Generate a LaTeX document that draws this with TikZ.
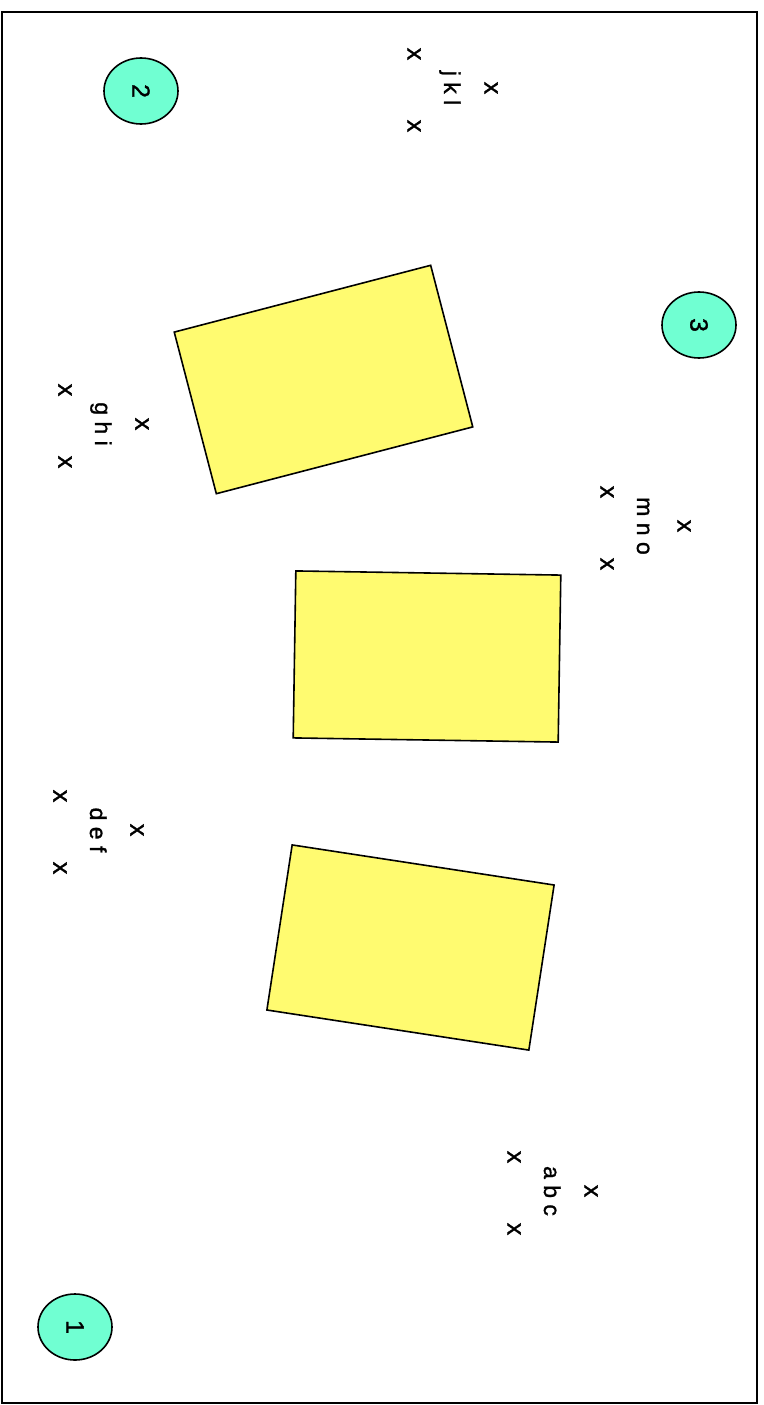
\documentclass[tikz,border=0pt]{standalone}
\usepackage{fontspec}
\setmainfont{Liberation Sans}
\newfontface\inkfont{Liberation Sans}[FakeBold=1.2]
\usetikzlibrary{shapes.geometric,positioning}
\definecolor{badgefill}{HTML}{70FFD2}
\definecolor{cardfill}{HTML}{FFFB70}
\tikzset{
  pageframe/.style={draw, line width=1.6pt},
  card/.style={draw, rectangle, fill=cardfill, line width=1.6pt, minimum width=265pt, minimum height=167pt, inner sep=0pt},
  badge/.style={draw, ellipse, fill=badgefill, line width=1.6pt, minimum width=66pt, minimum height=74pt, inner sep=0pt, rotate=-90, font=\inkfont\fontsize{25}{25}\selectfont},
  lbl/.style={rotate=-90, anchor=base, inner sep=0pt, font=\inkfont\fontsize{23}{23}\selectfont},
  xmk/.style={rotate=-90, inner sep=0pt, font=\inkfont\fontsize{25}{25}\selectfont},
}
\begin{document}
\begin{tikzpicture}[x=1pt, y=-1pt]
\useasboundingbox (0,0) rectangle (763,1405);
\draw[pageframe] (2,12) rectangle (757,1403);

% yellow cards
\node[card, rotate=14.6] (cardA) at (323.5,379.5) {};
\node[card, rotate=-0.9] (cardB) at (427,656.5) {};
\node[card, rotate=-8.7] (cardC) at (410.5,947.5) {};

% numbered badges
\node[badge] (one) at (75,1327) {1};
\node[badge] (two) at (141,91) {2};
\node[badge] (three) at (699,325) {3};

% labels with their x marks
\foreach \name/\txt/\gx/\gy in {abc/a b c/514/1193, def/d e f/60/832, ghi/g h i/65/426, jkl/j k l/414/90, mno/m n o/607/528} {
  \coordinate (\name) at (\gx,\gy);
  \node[lbl] (\name-txt) at ([shift={(30,-2)}]\name) {\txt};
  \node[xmk] (\name-x1) at ([shift={(0,-36)}]\name) {x};
  \node[xmk] (\name-x2) at ([shift={(0,36)}]\name) {x};
  \node[xmk] (\name-x3) at ([shift={(77,-2)}]\name) {x};
}

\end{tikzpicture}
\end{document}
